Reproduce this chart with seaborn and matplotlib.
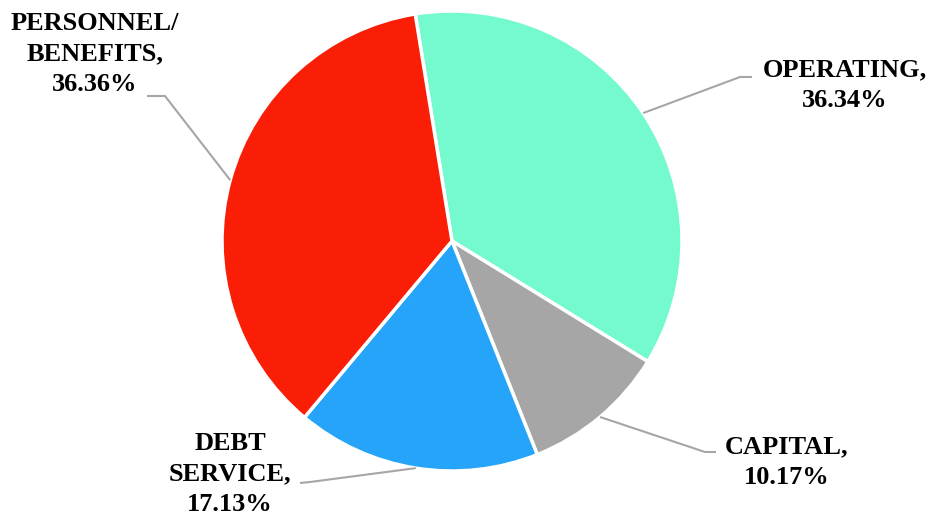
import numpy as np
import matplotlib
matplotlib.use("Agg")
import matplotlib.pyplot as plt
import seaborn as sns

categories = ["OPERATING", "CAPITAL", "DEBT\nSERVICE", "PERSONNEL/\nBENEFITS"]
values = [36.34, 10.17, 17.13, 36.36]
label_texts = ["OPERATING,\n36.34%", "CAPITAL,\n10.17%", "DEBT\nSERVICE,\n17.13%", "PERSONNEL/\nBENEFITS,\n36.36%"]
colors = ["#74FACE", "#A6A6A6", "#26A4FA", "#FA1E07"]

sns.set_theme(style="white")
plt.rcParams['font.family'] = ['Liberation Serif', 'DejaVu Serif']

W, H = 931, 521
fig = plt.figure(figsize=(W / 100, H / 100), dpi=100)
ax = fig.add_axes([0, 0, 1, 1])

cx, cy, r = 452, H - 241, 230
start = 99.2
wedges, _ = ax.pie(values, colors=colors, startangle=start, counterclock=False,
                   center=(cx, cy), radius=r, frame=True,
                   wedgeprops=dict(edgecolor="white", linewidth=2.5))
ax.set_xlim(0, W)
ax.set_ylim(0, H)
ax.set_aspect('equal')
ax.axis('off')

# label text centres (pixel coords, y from top) and leader line elbows
text_pos = [(845, 85), (787, 462), (230, 474), (95, 54)]
elbows = [[(740, 77), (752, 77)], [(705, 452), (716, 452)],
          [(310, 482), (300, 483)], [(165, 96), (147, 96)]]

for w, txt, (tx, ty), elb in zip(wedges, label_texts, text_pos, elbows):
    mid = np.deg2rad((w.theta1 + w.theta2) / 2)
    ex, ey = cx + r * np.cos(mid), cy + r * np.sin(mid)
    xs = [ex] + [p[0] for p in elb]
    ys = [ey] + [H - p[1] for p in elb]
    ax.plot(xs, ys, color="#A6A6A6", lw=1.5, solid_capstyle='butt')
    ax.text(tx, H - ty, txt, ha="center", va="center", multialignment="center",
            fontsize=19, fontweight="bold", color="black", linespacing=1.42)

fig.savefig("out.png", dpi=100, facecolor="white")
